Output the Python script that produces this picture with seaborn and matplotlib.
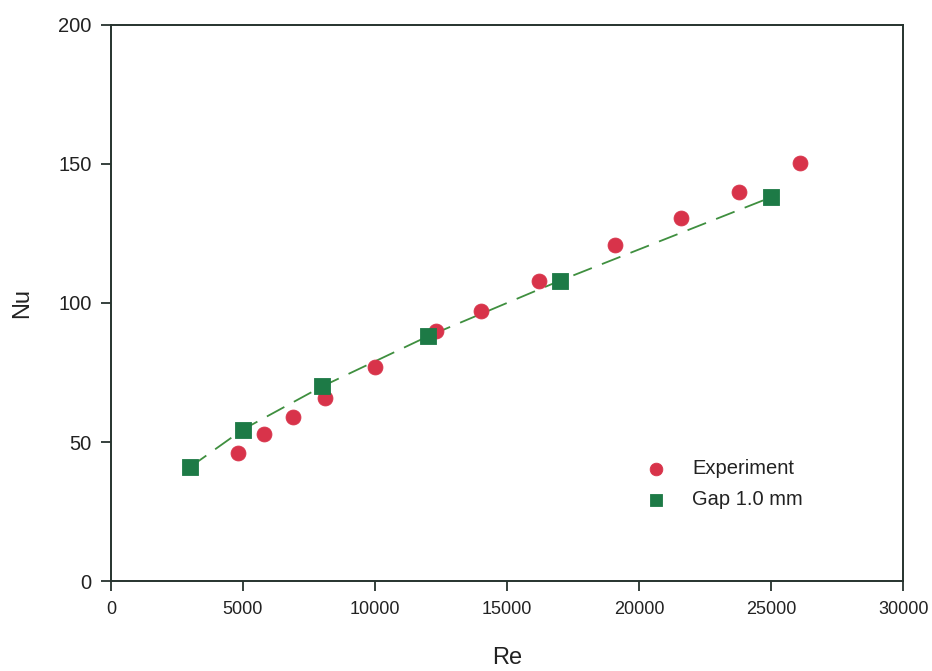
import matplotlib
matplotlib.use("Agg")
import matplotlib.pyplot as plt
import seaborn as sns
import pandas as pd

# Experimental Nusselt numbers
exp_re = [4800, 5800, 6900, 8100, 10000, 12300, 14000, 16200, 19100, 21600, 23800, 26100]
exp_nu = [46, 53, 59, 66, 77, 90, 97, 108, 121, 130.5, 140, 150.5]

# Simulation results, gap 1.0 mm
gap_re = [3000, 5000, 8000, 12000, 17000, 25000]
gap_nu = [41, 54.5, 70, 88, 108, 138]

x_ticks = [0, 5000, 10000, 15000, 20000, 25000, 30000]
y_ticks = [0, 50, 100, 150, 200]

sns.set_theme(style="white")
plt.rcParams["font.family"] = ["Liberation Sans", "DejaVu Sans"]

exp_df = pd.DataFrame({"Re": exp_re, "Nu": exp_nu})
gap_df = pd.DataFrame({"Re": gap_re, "Nu": gap_nu})

fig = plt.figure(figsize=(9.32, 6.71), dpi=100)
ax = fig.add_axes([0.119, 0.134, 0.850, 0.829])

red = "#d8334a"
green = "#1d7a46"
line_green = "#3f8f3f"
spine_c = "#26332e"
text_c = "#222222"

sns.lineplot(data=gap_df, x="Re", y="Nu", ax=ax, color=line_green,
             linewidth=1.3, dashes=False, linestyle=(0, (11, 6)), zorder=2)
sns.scatterplot(data=exp_df, x="Re", y="Nu", ax=ax, color=red, marker="o",
                s=115, edgecolor=red, linewidth=0.6, label="Experiment", zorder=3)
sns.scatterplot(data=gap_df, x="Re", y="Nu", ax=ax, color=green, marker="s",
                s=120, edgecolor=green, linewidth=0.6, label="Gap 1.0 mm", zorder=4)

ax.set_xlim(0, 30000)
ax.set_ylim(0, 200)
ax.set_xticks(x_ticks)
ax.set_yticks(y_ticks)
ax.set_xticklabels([str(t) for t in x_ticks])
ax.set_yticklabels([str(t) for t in y_ticks])
ax.tick_params(axis="both", which="major", direction="out", length=7, width=1.3,
               color=spine_c, labelcolor=text_c, pad=7, bottom=True, left=True)
ax.tick_params(axis="x", labelsize=13)
ax.tick_params(axis="y", labelsize=14.5)
for s in ax.spines.values():
    s.set_color(spine_c)
    s.set_linewidth(1.4)

ax.set_xlabel("Re", fontsize=17, color=text_c, labelpad=21)
ax.set_ylabel("Nu", fontsize=17, color=text_c, labelpad=18)

leg = ax.legend(loc="lower left", bbox_to_anchor=(0.64, 0.097), frameon=False,
                fontsize=14.5, handletextpad=0.8, labelspacing=0.6,
                markerscale=0.85)
for t in leg.get_texts():
    t.set_color(text_c)

fig.savefig("out.png", dpi=100, facecolor="white")
